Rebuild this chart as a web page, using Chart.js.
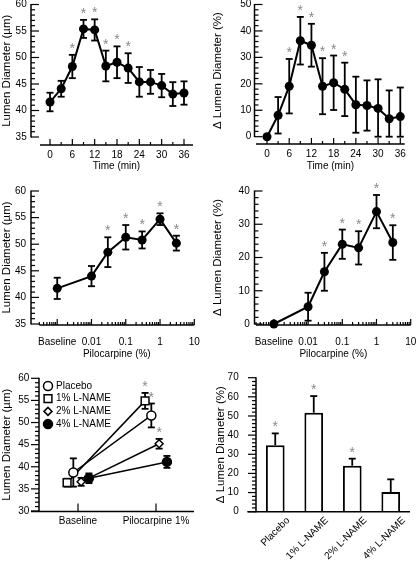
<!DOCTYPE html>
<html>
<head>
<meta charset="utf-8">
<script src="https://cdn.jsdelivr.net/npm/chart.js@4.4.0/dist/chart.umd.min.js"></script>
<style>
  html, body { margin: 0; padding: 0; background: #fff; }
  #fig { position: relative; width: 416px; height: 561px; overflow: hidden; }
  #fig canvas { position: absolute; }
</style>
</head>
<body>
<div id="fig">
  <canvas id="panelA" width="208" height="180" style="left:0;top:0"></canvas>
  <canvas id="panelB" width="208" height="180" style="left:208px;top:0"></canvas>
  <canvas id="panelC" width="208" height="180" style="left:0;top:180px"></canvas>
  <canvas id="panelD" width="208" height="180" style="left:208px;top:180px"></canvas>
  <canvas id="panelE" width="208" height="201" style="left:0;top:360px"></canvas>
  <canvas id="panelF" width="208" height="201" style="left:208px;top:360px"></canvas>
</div>
<script>
// ---------------- data ----------------

// time course after pilocarpine (min)
const timeMin = [0, 3, 6, 9, 12, 15, 18, 21, 24, 27, 30, 33, 36];
const timeTicks = [0, 6, 12, 18, 24, 30, 36];
const diamByTime = [41.6, 44.1, 48.3, 55.4, 55.2, 48.4, 49.1, 48.0, 45.4, 45.4, 44.7, 43.1, 43.3];
const diamByTimeErr = [1.75, 1.5, 2.2, 1.7, 2.0, 2.9, 3.0, 2.8, 2.8, 2.25, 2.2, 2.25, 2.2];
const pctByTime = [0, 8.1, 19.1, 36.3, 34.6, 19.1, 20.4, 17.9, 12.1, 11.8, 10.7, 6.8, 7.6];
const pctByTimeErr = [0, 6.9, 10.3, 9.0, 8.1, 10.6, 10.3, 10.1, 10.6, 9.5, 11.0, 10.7, 11.0];
const sigByTime = [0, 0, 1, 1, 1, 1, 1, 1, 0, 0, 0, 0, 0];

// dose response (pilocarpine %), baseline sits one decade under 0.01
const doseX = [0.001, 0.01, 0.03, 0.1, 0.3, 1, 3];
const doseTicks = [0.001, 0.01, 0.1, 1, 10];
const doseTickLabels = ['Baseline', '0.01', '0.1', '1', '10'];
const diamByDose = [41.7, 44.0, 48.5, 51.3, 50.8, 54.7, 50.2];
const diamByDoseErr = [2.0, 1.9, 2.8, 2.3, 1.6, 1.1, 1.4];
const pctByDose = [0, 5.2, 15.7, 24.0, 22.9, 33.8, 24.5];
const pctByDoseErr = [0, 4.2, 5.7, 4.4, 5.0, 5.0, 5.2];
const sigByDose = [0, 0, 1, 1, 1, 1, 1];

// L-NAME pretreatment
const phases = ['Baseline', 'Pilocarpine 1%'];
const groups = ['Placebo', '1% L-NAME', '2% L-NAME', '4% L-NAME'];
const diamPlacebo = [38.7, 51.6];
const diamPlaceboErr = [3.2, 2.7];
const diamLname1 = [36.4, 54.9];
const diamLname1Err = [0.9, 1.8];
const diamLname2 = [36.6, 45.2];
const diamLname2Err = [0.9, 1.1];
const diamLname4 = [37.4, 41.1];
const diamLname4Err = [1.1, 1.35];
const sigPlacebo = [0, 1];
const sigLname1 = [0, 1];
const sigLname2 = [0, 1];
const sigLname4 = [0, 0];
const pctByGroup = [34.7, 51.7, 24.0, 10.3];
const pctByGroupErr = [6.2, 8.7, 3.7, 6.6];
const sigByGroup = [1, 1, 1, 0];

// y tick values
const diamTicks = [35, 40, 45, 50, 55, 60];
const pctTimeTicks = [0, 10, 20, 30, 40, 50];
const pctDoseTicks = [0, 10, 20, 30, 40];
const diamLnameTicks = [30, 35, 40, 45, 50, 55, 60];
const pctGroupTicks = [0, 10, 20, 30, 40, 50, 60, 70];

// ---------------- helpers ----------------

Chart.defaults.font.family = '"Liberation Sans", Arial, Helvetica, sans-serif';
Chart.defaults.color = '#000';

const FONT = '"Liberation Sans", Arial, Helvetica, sans-serif';
const STAR_GREY = '#8a8a8a';

function strokeLine(ctx, x1, y1, x2, y2) {
	ctx.beginPath();
	ctx.moveTo(x1, y1);
	ctx.lineTo(x2, y2);
	ctx.stroke();
}

// axes drawn in the old offset style: comb ticks, gaps between axes
const sciAxes = {
	id: 'sciAxes',
	afterDraw(chart, args, o) {
		const { ctx, chartArea: a } = chart;
		const xs = chart.scales.x, ys = chart.scales.y;
		ctx.save();
		ctx.strokeStyle = '#000';

		// y axis
		const ax = a.left - o.yGap;
		const dir = o.outward ? -1 : 1;
		ctx.lineWidth = 1.5;
		strokeLine(ctx, ax, a.top - 0.5, ax, a.bottom + 0.5);
		ctx.lineWidth = 1.2;
		const n = Math.round((ys.max - ys.min) / o.yMinor);
		for (let i = 0; i <= n; i++) {
			const v = ys.min + i * o.yMinor;
			const major = Math.abs(v / o.yMajor - Math.round(v / o.yMajor)) < 1e-6;
			const py = ys.getPixelForValue(v);
			strokeLine(ctx, ax, py, ax + dir * (major ? 8 : 4), py);
		}

		// x axis
		const ay = a.bottom + o.xGap;
		ctx.lineWidth = 1.5;
		strokeLine(ctx, a.left - (o.xExtend || 0), ay, a.right, ay);
		ctx.lineWidth = 1.2;
		if (o.xMajorLen) {
			xs.ticks.forEach(t => {
				const px = xs.getPixelForValue(t.value);
				strokeLine(ctx, px, ay, px, ay - o.xMajorLen);
			});
		}
		if (o.xMinorStep) {
			const first = xs.ticks[0].value, last = xs.ticks[xs.ticks.length - 1].value;
			for (let v = first + o.xMinorStep; v < last; v += 2 * o.xMinorStep) {
				const px = xs.getPixelForValue(v);
				strokeLine(ctx, px, ay, px, ay - o.xMinorLen);
			}
		}
		if (o.xLogMinor) {
			const k0 = Math.floor(Math.log10(xs.min)), k1 = Math.ceil(Math.log10(xs.max));
			for (let k = k0; k < k1; k++) {
				for (let m = 2; m <= 9; m++) {
					const v = m * Math.pow(10, k);
					if (v < xs.min || v > xs.max) continue;
					const px = xs.getPixelForValue(v);
					strokeLine(ctx, px, ay, px, ay - o.xMinorLen);
				}
			}
		}
		ctx.restore();
	}
};

function drawErrors(chart, onTop) {
	const { ctx } = chart;
	const ys = chart.scales.y;
	chart.data.datasets.forEach((ds, i) => {
		if (!ds.errors || (ds.type === 'bar' || chart.config.type === 'bar') !== onTop) return;
		const meta = chart.getDatasetMeta(i);
		ctx.save();
		ctx.strokeStyle = '#000';
		ctx.lineWidth = 1.8;
		meta.data.forEach((el, j) => {
			const e = ds.errors[j];
			if (!e) return;
			const val = meta.controller.getParsed(j).y;
			const top = ys.getPixelForValue(val + e);
			const upOnly = chart.config.type === 'bar';
			const bot = upOnly ? ys.getPixelForValue(val) : ys.getPixelForValue(Math.max(val - e, ys.min));
			const cap = 3.5;
			strokeLine(ctx, el.x, top, el.x, bot);
			strokeLine(ctx, el.x - cap, top, el.x + cap, top);
			if (!upOnly) strokeLine(ctx, el.x - cap, bot, el.x + cap, bot);
		});
		ctx.restore();
	});
}

const errorBars = {
	id: 'errorBars',
	beforeDatasetsDraw(chart) { drawErrors(chart, false); },
	afterDatasetsDraw(chart) {
		drawErrors(chart, true);
		// significance stars above the error bars
		const { ctx } = chart;
		const ys = chart.scales.y;
		ctx.save();
		ctx.fillStyle = STAR_GREY;
		ctx.font = '14px ' + FONT;
		ctx.textAlign = 'center';
		ctx.textBaseline = 'alphabetic';
		chart.data.datasets.forEach((ds, i) => {
			if (!ds.stars) return;
			const meta = chart.getDatasetMeta(i);
			meta.data.forEach((el, j) => {
				if (!ds.stars[j]) return;
				const val = meta.controller.getParsed(j).y;
				const top = ys.getPixelForValue(val + (ds.errors ? ds.errors[j] : 0));
				ctx.fillText('*', el.x, top - 10 + 8);
			});
		});
		ctx.restore();
	}
};

const insetLegend = {
	id: 'insetLegend',
	afterDraw(chart, args, o) {
		if (!o || !o.display) return;
		const { ctx } = chart;
		ctx.save();
		ctx.font = '10px ' + FONT;
		ctx.textBaseline = 'middle';
		chart.data.datasets.forEach((ds, i) => {
			const y = o.y + i * o.dy;
			ctx.fillStyle = ds.pointBackgroundColor;
			ctx.strokeStyle = '#000';
			ctx.lineWidth = ds.pointBorderWidth;
			Chart.helpers.drawPoint(ctx, {
				pointStyle: ds.pointStyle, radius: ds.pointRadius, rotation: 0, borderWidth: ds.pointBorderWidth
			}, o.x, y);
			ctx.fillStyle = '#000';
			ctx.fillText(ds.label, o.x + o.textGap, y);
		});
		ctx.restore();
	}
};

function yScale(c) {
	return {
		type: 'linear',
		min: c.ticks[0],
		max: c.ticks[c.ticks.length - 1],
		grid: { display: false, drawTicks: false },
		border: { display: false },
		afterBuildTicks: s => { s.ticks = c.ticks.map(v => ({ value: v })); },
		afterFit: s => { s.width = c.width; s.paddingTop = 0; s.paddingBottom = 0; },
		ticks: { padding: c.pad, color: '#000', font: { size: 10 }, autoSkip: false },
		title: {
			display: true, text: c.title, color: '#000',
			font: { size: 11.5 }, padding: { top: c.titlePad, bottom: 0 }
		}
	};
}

function xScale(c) {
	return {
		type: c.type,
		min: c.min,
		max: c.max,
		grid: { display: false, drawTicks: false },
		border: { display: false },
		afterBuildTicks: s => { s.ticks = c.ticks.map(v => ({ value: v })); },
		afterFit: s => { s.height = c.height; s.paddingLeft = 0; s.paddingRight = 0; },
		ticks: {
			padding: c.pad, color: '#000', font: { size: 10 }, autoSkip: false,
			maxRotation: 0, minRotation: 0,
			callback: (v, i) => (c.labels ? c.labels[i] : String(c.ticks[i]))
		},
		title: c.title ? {
			display: true, text: c.title, color: '#000',
			font: { size: 10 }, padding: { top: 0, bottom: c.titlePad }
		} : { display: false }
	};
}

function baseOptions(pad, axes) {
	return {
		responsive: false,
		animation: false,
		events: [],
		layout: { padding: pad },
		plugins: { legend: { display: false }, tooltip: { enabled: false }, sciAxes: axes }
	};
}

function dotSeries(xs, ys, errs, stars) {
	return {
		data: xs.map((x, i) => ({ x: x, y: ys[i] })),
		errors: errs,
		stars: stars,
		borderColor: '#000',
		borderWidth: 2,
		pointRadius: 4.5,
		pointBackgroundColor: '#000',
		pointBorderColor: '#000',
		pointBorderWidth: 0,
		tension: 0,
		clip: false
	};
}

// ---------------- panel A: diameter vs time ----------------
new Chart(document.getElementById('panelA'), {
	type: 'line',
	data: { datasets: [dotSeries(timeMin, diamByTime, diamByTimeErr, sigByTime)] },
	options: Object.assign(baseOptions({ left: 0, top: 4, right: 15, bottom: 0 },
		{ yGap: 9, xGap: 8, yMinor: 1, yMajor: 5, xMajorLen: 6, xMinorStep: 3, xMinorLen: 3 }), {
		scales: {
			x: xScale({ type: 'linear', min: -2.69, max: 38.42, ticks: timeTicks, height: 43, pad: 12,
				title: 'Time (min)', titlePad: 8 }),
			y: yScale({ ticks: diamTicks, width: 40, pad: 13.3, title: 'Lumen Diameter (\u00b5m)', titlePad: 0 })
		}
	}),
	plugins: [sciAxes, errorBars]
});

// ---------------- panel B: % change vs time ----------------
new Chart(document.getElementById('panelB'), {
	type: 'line',
	data: { datasets: [dotSeries(timeMin, pctByTime, pctByTimeErr, sigByTime)] },
	options: Object.assign(baseOptions({ left: 0, top: 4.3, right: 11.3, bottom: 0 },
		{ yGap: 1.5, xGap: 7.3, yMinor: 2, yMajor: 10, xMajorLen: 6, xMinorStep: 3, xMinorLen: 3 }), {
		scales: {
			x: xScale({ type: 'linear', min: -2.97, max: 37.19, ticks: timeTicks, height: 43.3, pad: 12,
				title: 'Time (min)', titlePad: 8 }),
			y: yScale({ ticks: pctTimeTicks, width: 48, pad: 4.7, title: '\u0394 Lumen Diameter (%)', titlePad: 3 })
		}
	}),
	plugins: [sciAxes, errorBars]
});

// ---------------- panel C: diameter vs dose ----------------
new Chart(document.getElementById('panelC'), {
	type: 'line',
	data: { datasets: [dotSeries(doseX, diamByDose, diamByDoseErr, sigByDose)] },
	options: Object.assign(baseOptions({ left: 0, top: 11, right: 13.7, bottom: 0 },
		{ yGap: 8.3, xGap: 1, yMinor: 1, yMajor: 5, xMajorLen: 6, xLogMinor: true, xMinorLen: 3 }), {
		scales: {
			x: xScale({ type: 'logarithmic', min: 0.0003, max: 10, ticks: doseTicks, labels: doseTickLabels,
				height: 36, pad: 12.3, title: 'Pilocarpine (%)', titlePad: 0 }),
			y: yScale({ ticks: diamTicks, width: 39.3, pad: 13.3, title: 'Lumen Diameter (\u00b5m)', titlePad: 0 })
		}
	}),
	plugins: [sciAxes, errorBars]
});

// ---------------- panel D: % change vs dose ----------------
new Chart(document.getElementById('panelD'), {
	type: 'line',
	data: { datasets: [dotSeries(doseX, pctByDose, pctByDoseErr, sigByDose)] },
	options: Object.assign(baseOptions({ left: 0, top: 11, right: 5.3, bottom: 0 },
		{ yGap: 1.5, xGap: 1, yMinor: 2, yMajor: 10, xMajorLen: 6, xLogMinor: true, xMinorLen: 3 }), {
		scales: {
			x: xScale({ type: 'logarithmic', min: 0.0003, max: 10, ticks: doseTicks, labels: doseTickLabels,
				height: 36, pad: 12.3, title: 'Pilocarpine (%)', titlePad: 0 }),
			y: yScale({ ticks: pctDoseTicks, width: 48, pad: 6.3, title: '\u0394 Lumen Diameter (%)', titlePad: 3 })
		}
	}),
	plugins: [sciAxes, errorBars]
});

// ---------------- panel E: L-NAME, baseline vs pilocarpine ----------------
const lnameMeans = [diamPlacebo, diamLname1, diamLname2, diamLname4];
const lnameErrs = [diamPlaceboErr, diamLname1Err, diamLname2Err, diamLname4Err];
const lnameSig = [sigPlacebo, sigLname1, sigLname2, sigLname4];
const lnameLook = [
	{ pointStyle: 'circle', radius: 4.5, fill: '#fff', dodge: -0.06 },
	{ pointStyle: 'rect', radius: 5.5, fill: '#fff', dodge: -0.14 },
	{ pointStyle: 'rectRot', radius: 4, fill: '#fff', dodge: 0.04 },
	{ pointStyle: 'circle', radius: 4.5, fill: '#000', dodge: 0.14 }
];
const phaseIndex = phases.map((p, i) => i);

new Chart(document.getElementById('panelE'), {
	type: 'line',
	data: {
		datasets: groups.map((g, k) => ({
			label: g,
			data: phaseIndex.map(i => ({ x: i + lnameLook[k].dodge, y: lnameMeans[k][i] })),
			errors: lnameErrs[k],
			stars: lnameSig[k],
			borderColor: '#000',
			borderWidth: 1.5,
			pointStyle: lnameLook[k].pointStyle,
			pointRadius: lnameLook[k].radius,
			pointBackgroundColor: lnameLook[k].fill,
			pointBorderColor: '#000',
			pointBorderWidth: 1.5,
			tension: 0,
			clip: false
		}))
	},
	options: Object.assign(baseOptions({ left: 0, top: 18.3, right: 14, bottom: 0 },
		{ yGap: 0, outward: true, xGap: 0.5, xExtend: 8, yMinor: 1, yMajor: 5, xMajorLen: 8 }), {
		scales: {
			x: xScale({ type: 'linear', min: -0.5, max: 1.487, ticks: phaseIndex, labels: phases,
				height: 50, pad: 4 }),
			y: yScale({ ticks: diamLnameTicks, width: 39, pad: 9.7, title: 'Lumen Diameter (\u00b5m)', titlePad: 0 })
		}
	}),
	plugins: [sciAxes, errorBars, {
		id: 'legendE',
		afterDraw(chart) { insetLegend.afterDraw(chart, null, { display: true, x: 48, y: 26, dy: 12.7, textGap: 8 }); }
	}]
});

// ---------------- panel F: % change by group ----------------
new Chart(document.getElementById('panelF'), {
	type: 'bar',
	data: {
		labels: groups,
		datasets: [{
			data: pctByGroup,
			errors: pctByGroupErr,
			stars: sigByGroup,
			backgroundColor: '#fff',
			borderColor: '#000',
			borderWidth: 2,
			barPercentage: 0.486,
			categoryPercentage: 1
		}]
	},
	options: Object.assign(baseOptions({ left: 0, top: 17.7, right: 6, bottom: 0 },
		{ yGap: 0, outward: true, xGap: 0, xExtend: 8.7, yMinor: 2, yMajor: 10, xMajorLen: 0 }), {
		scales: {
			x: {
				type: 'category',
				grid: { display: false, drawTicks: false },
				border: { display: false },
				afterFit: s => { s.height = 49.3; s.paddingLeft = 0; s.paddingRight = 0; },
				ticks: { padding: 3, color: '#000', font: { size: 10 }, autoSkip: false,
					maxRotation: 45, minRotation: 45, labelOffset: 13 }
			},
			y: yScale({ ticks: pctGroupTicks, width: 48, pad: 17.3, title: '\u0394 Lumen Diameter (%)', titlePad: 6.4 })
		}
	}),
	plugins: [sciAxes, errorBars]
});
</script>
</body>
</html>
